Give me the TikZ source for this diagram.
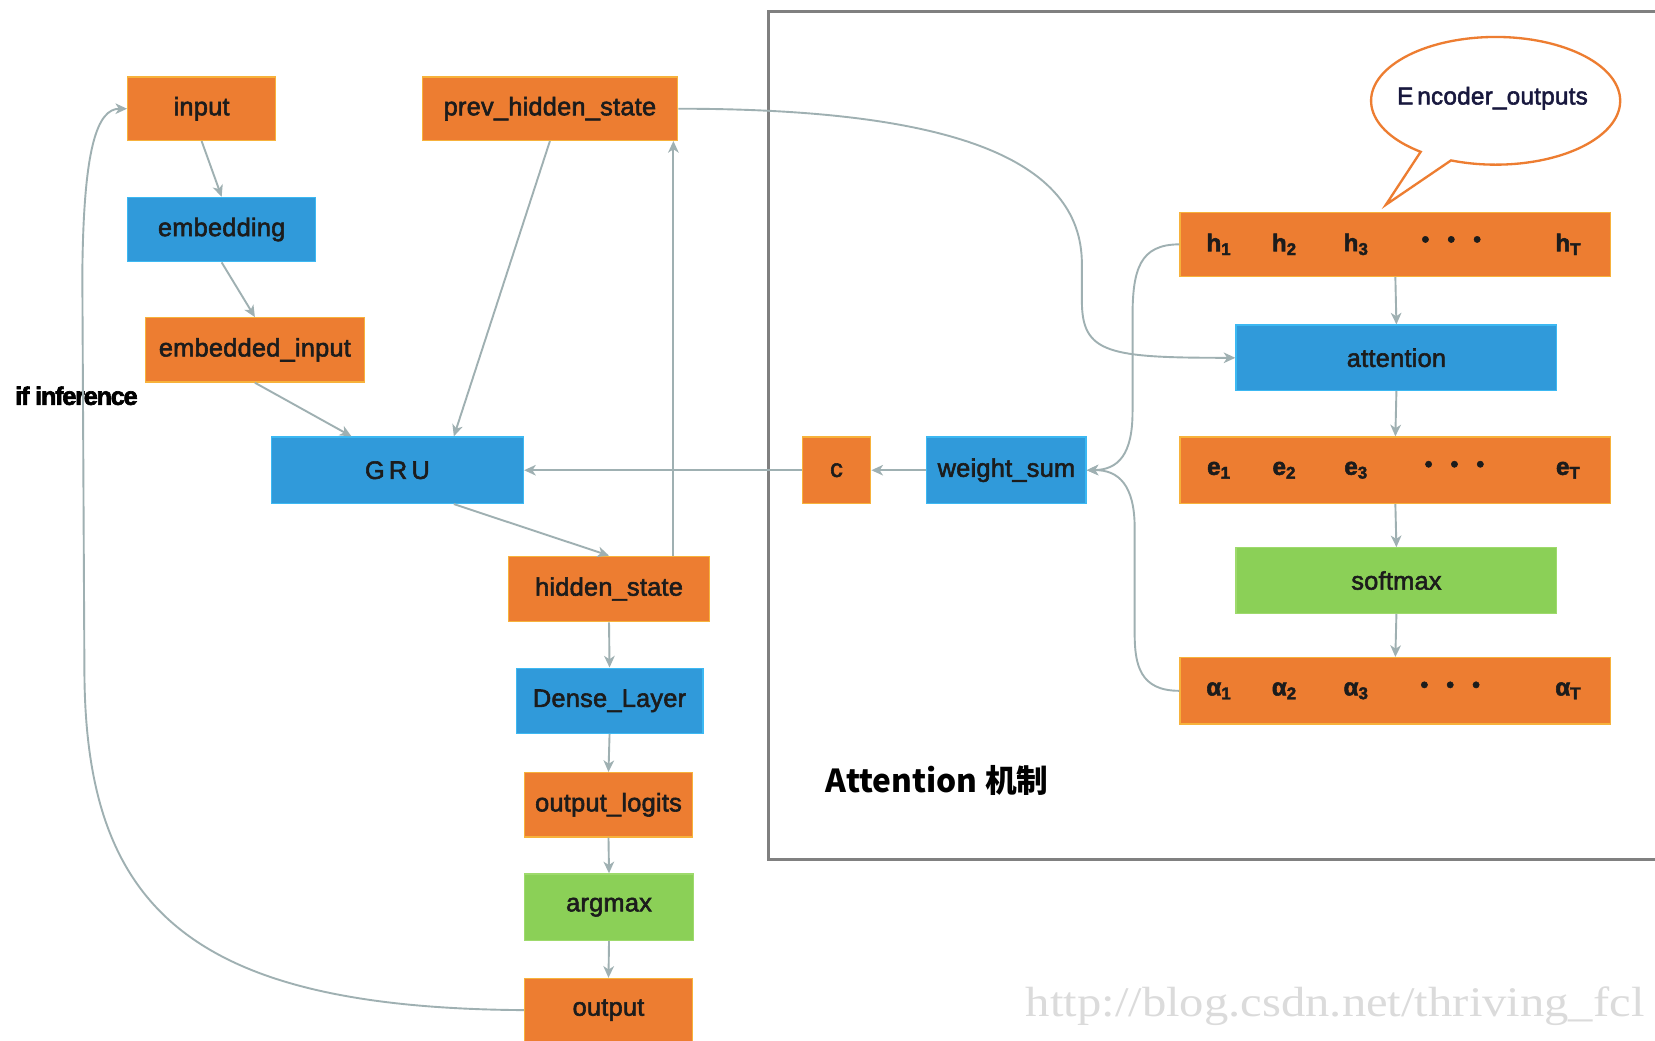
\documentclass[tikz,border=0pt]{standalone}
\usepackage{fontspec}
\usepackage{graphicx}
\setmainfont{Liberation Sans}[FakeBold=2.2, LetterSpace=1]
\newfontfamily\cjkfont{Noto Sans CJK SC}
\newfontfamily\markfont{Liberation Serif}
\usetikzlibrary{arrows.meta,calc}

\definecolor{boxorange}{HTML}{ED7D31}
\definecolor{edgeorange}{HTML}{F7B23B}
\definecolor{boxblue}{HTML}{309ADA}
\definecolor{edgeblue}{HTML}{3CB8F2}
\definecolor{boxgreen}{HTML}{8BD057}
\definecolor{edgegreen}{HTML}{9EDA6C}
\definecolor{wire}{HTML}{9FB0B2}
\definecolor{framegray}{HTML}{808080}
\definecolor{ink}{HTML}{1C1C1C}

\tikzset{
  blk/.style={rectangle, inner sep=0pt, line width=0.6pt, text=ink,
              font=\fontsize{12}{13}\selectfont},
  obox/.style={blk, fill=boxorange, draw=edgeorange},
  bbox/.style={blk, fill=boxblue, draw=edgeblue},
  gbox/.style={blk, fill=boxgreen, draw=edgegreen},
  rowtxt/.style={inner sep=0pt, text=ink, font=\bfseries\fontsize{11.5}{12}\selectfont},
  dotstxt/.style={inner sep=0pt, text=ink, font=\fontsize{11}{11}\selectfont},
  link/.style={draw=wire, line width=0.9pt,
               -{Stealth[length=5.5pt,width=5pt,inset=1.6pt]}},
}

\begin{document}
\begin{tikzpicture}[x=0.5pt, y=-0.5pt]
\useasboundingbox (0,0) rectangle (1568,986);
\fill[white] (0,0) rectangle (1568,986);

% attention frame (runs past the right edge)
\draw[framegray, line width=1.5pt] (1600,11) -- (728,11) -- (728,814) -- (1600,814);

% decoder column
\node[obox, minimum width=70pt,   minimum height=30pt]   (input)   at (191,103)   {input};
\node[obox, minimum width=121pt,  minimum height=30pt]   (prev)    at (521,103)   {prev\_hidden\_state};
\node[bbox, minimum width=89pt,   minimum height=30.5pt] (embed)   at (210,217.5) {embedding};
\node[obox, minimum width=103.5pt,minimum height=30.5pt] (embin)   at (241.5,331.5) {embedded\_input};
\node[bbox, minimum width=119.5pt,minimum height=31.5pt] (gru)     at (376.5,445.5) {G\,R\,U};
\node[obox, minimum width=95pt,   minimum height=31pt]   (hidden)  at (577,558)   {hidden\_state};
\node[bbox, minimum width=88.5pt, minimum height=31pt]   (dense)   at (577.5,664) {Dense\_Layer};
\node[obox, minimum width=79.5pt, minimum height=30.5pt] (logits)  at (576.5,762.5) {output\_logits};
\node[gbox, minimum width=80pt,   minimum height=31.5pt] (argmax)  at (577,859.5) {argmax};
\node[obox, minimum width=79.5pt, minimum height=30pt]   (output)  at (576.5,957) {output};

% attention block
\node[obox, minimum width=32.5pt, minimum height=31.5pt] (ctx)     at (792.5,445.5) {c};
\node[bbox, minimum width=75.5pt, minimum height=31.5pt] (wsum)    at (953.5,445.5) {weight\_sum};
\node[obox, minimum width=204pt,  minimum height=30.5pt] (hrow)    at (1322,231.5) {};
\node[bbox, minimum width=152pt,  minimum height=31pt]   (attn)    at (1323,339)   {attention};
\node[obox, minimum width=204pt,  minimum height=31.5pt] (erow)    at (1322,445.5) {};
\node[gbox, minimum width=152pt,  minimum height=31pt]   (softmax) at (1323,550)   {softmax};
\node[obox, minimum width=204pt,  minimum height=31.5pt] (arow)    at (1322,654.5) {};

% row entries
\node[rowtxt] (h1) at (1155,231.5) {h\textsubscript{1}};
\node[rowtxt] (h2) at (1217,231.5) {h\textsubscript{2}};
\node[rowtxt] (h3) at (1285,231.5) {h\textsubscript{3}};
\node[dotstxt] (hd) at (1375,229) {•\hspace{8.4pt}•\hspace{8.4pt}•};
\node[rowtxt] (hT) at (1486,231.5) {h\textsubscript{T}};

\node[rowtxt] (e1) at (1155,445.5) {e\textsubscript{1}};
\node[rowtxt] (e2) at (1217,445.5) {e\textsubscript{2}};
\node[rowtxt] (e3) at (1285,445.5) {e\textsubscript{3}};
\node[dotstxt] (ed) at (1378,442) {•\hspace{8.4pt}•\hspace{8.4pt}•};
\node[rowtxt] (eT) at (1486,445.5) {e\textsubscript{T}};

\node[rowtxt] (a1) at (1155,654.5) {α\textsubscript{1}};
\node[rowtxt] (a2) at (1217,654.5) {α\textsubscript{2}};
\node[rowtxt] (a3) at (1285,654.5) {α\textsubscript{3}};
\node[dotstxt] (ad) at (1374,651) {•\hspace{8.4pt}•\hspace{8.4pt}•};
\node[rowtxt] (aT) at (1486,654.5) {α\textsubscript{T}};

% speech bubble for the encoder outputs
\coordinate (bc) at (1417,95.5);
\coordinate (btip) at (1313,194);
\draw[boxorange, line width=1.1pt, fill=white]
  (btip) -- ($(bc)+(127:118 and 60.5)$)
  arc[start angle=127, end angle=471, x radius=118, y radius=60.5] -- cycle;
\node[inner sep=0pt, text=ink!85!blue, font=\fontsize{11.5}{12}\selectfont] (enc) at (1414,93)
  {E\,ncoder\_outputs};

% labels
\node[inner sep=0pt, anchor=west, text=black,
      font=\bfseries\fontsize{12}{13}\selectfont\addfontfeature{LetterSpace=-5,FakeBold=2.5}] (inf) at (14,375) {if inference};
\node[inner sep=0pt, anchor=west, text=black,
      font=\cjkfont\bfseries\fontsize{15}{16}\selectfont] (attlabel) at (782,739) {Attention 机制};
\node[inner sep=0pt, text=black!14, font=\markfont\fontsize{20}{21}\selectfont] (mark) at (1265,953)
  {\resizebox{293pt}{\height}{http://blog.csdn.net/thriving\_fcl}};

% decoder connectors
\draw[link] (input.south) -- (embed.north);
\draw[link] (embed.south) -- (embin.north);
\draw[link] (embin.south) -- ($(gru.north)+(-43.5,0)$);
\draw[link] (prev.south) -- ($(gru.north)+(53.5,0)$);
\draw[link] ($(gru.south)+(53.5,0)$) -- (hidden.north);
\draw[link] ($(hidden.north)+(61,0)$) -- ($(prev.south)+(117,0)$);
\draw[link] (hidden.south) -- (dense.north);
\draw[link] (dense.south) -- (logits.north);
\draw[link] (logits.south) -- (argmax.north);
\draw[link] (argmax.south) -- (output.north);
\draw[link] (ctx.west) -- (gru.east);
\draw[link] (wsum.west) -- (ctx.east);

% feedback loop at inference time
\draw[link] (output.west) .. controls (180,955) and (82,860) .. (80,640)
  -- (78,260) .. controls (79,140) and (92,103) .. (input.west);

% previous state into the attention score
\draw[link] (prev.east) .. controls (900,103) and (1025,150) .. (1025,250)
  -- (1025,285) .. controls (1025,335) and (1050,339) .. (attn.west);

% attention pipeline
\draw[link] (hrow.south) -- (attn.north);
\draw[link] (attn.south) -- (erow.north);
\draw[link] (erow.south) -- (softmax.north);
\draw[link] (softmax.south) -- (arow.north);

% weighted sum of encoder states
\draw[link] (hrow.west) .. controls (1080,231.5) and (1073,255) .. (1073,300)
  -- (1073,390) .. controls (1073,430) and (1060,445) .. (wsum.east);
\draw[link] (arow.west) .. controls (1080,654.5) and (1075,630) .. (1075,600)
  -- (1075,500) .. controls (1075,460) and (1060,445) .. (wsum.east);
\end{tikzpicture}
\end{document}
